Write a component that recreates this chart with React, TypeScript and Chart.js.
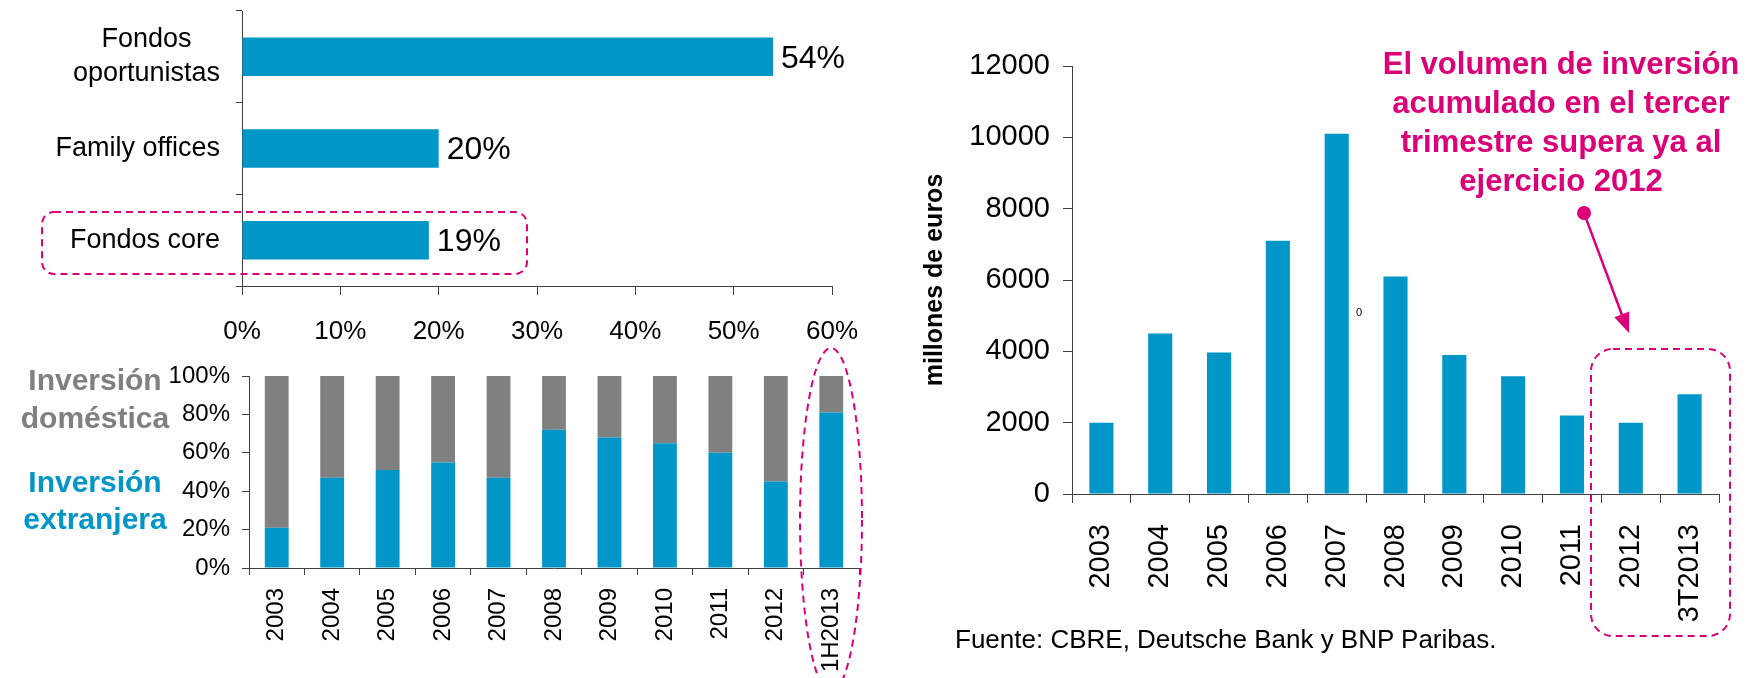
import React, { useEffect, useRef } from "react";
import { Chart, registerables } from "chart.js";

Chart.register(...registerables);

const FONT = '"Liberation Sans", Arial, sans-serif';
const BLUE = "#0096C8";
const GREY = "#808080";
const PINK = "#DC0078";
const AXIS = "#404040";

// Chart A: investor type shares
const investorTypes: (string | string[])[] = [["Fondos", "oportunistas"], "Family offices", "Fondos core"];
const investorShares = [54, 20, 19];
const shareTicks = [0, 10, 20, 30, 40, 50, 60];

// Chart B: foreign vs domestic investment share
const periodsB = ["2003", "2004", "2005", "2006", "2007", "2008", "2009", "2010", "2011", "2012", "1H2013"];
const foreignShare = [21, 47, 51, 55, 47, 72, 68, 65, 60, 45, 81];
const domesticShare = [79, 53, 49, 45, 53, 28, 32, 35, 40, 55, 19];

// Chart C: investment volume (millones de euros)
const periodsC = ["2003", "2004", "2005", "2006", "2007", "2008", "2009", "2010", "2011", "2012", "3T2013"];
const volumes = [2000, 4500, 3970, 7100, 10100, 6100, 3900, 3300, 2200, 2000, 2800];

const annotationLines = ["El volumen de inversión", "acumulado en el tercer", "trimestre supera ya al", "ejercicio 2012"];

const catLabelPlugin = {
  id: "catLabels",
  afterDraw(chart: any) {
    const y = chart.scales.y;
    const ctx = chart.ctx;
    ctx.save();
    ctx.font = `27px ${FONT}`;
    ctx.fillStyle = "#000";
    ctx.textBaseline = "middle";
    ctx.textAlign = "center";
    investorTypes.forEach((lab, i) => {
      const lines = Array.isArray(lab) ? lab : [lab];
      const w = Math.max(...lines.map((l) => ctx.measureText(l).width));
      const cx = y.right - 22 - w / 2;
      const cy = y.getPixelForValue(i);
      const lh = 34;
      lines.forEach((l, j) => ctx.fillText(l, cx, cy + (j - (lines.length - 1) / 2) * lh));
    });
    ctx.restore();
  },
};

const valueLabelPlugin = {
  id: "valueLabels",
  afterDatasetsDraw(chart: any) {
    const ctx = chart.ctx;
    const meta = chart.getDatasetMeta(0);
    ctx.save();
    ctx.font = `32px ${FONT}`;
    ctx.fillStyle = "#000";
    ctx.textBaseline = "middle";
    ctx.textAlign = "left";
    meta.data.forEach((bar: any, i: number) => {
      ctx.fillText(`${investorShares[i]}%`, bar.x + 8, bar.y + 2);
    });
    ctx.restore();
  },
};

export default function App() {
  const refA = useRef<HTMLCanvasElement>(null);
  const refB = useRef<HTMLCanvasElement>(null);
  const refC = useRef<HTMLCanvasElement>(null);

  useEffect(() => {
    const chartA = new Chart(refA.current as HTMLCanvasElement, {
      type: "bar",
      data: {
        labels: investorTypes as any,
        datasets: [{ data: investorShares, backgroundColor: BLUE, categoryPercentage: 1, barPercentage: 0.42 }],
      },
      options: {
        animation: false,
        responsive: false,
        indexAxis: "y",
        layout: { padding: { top: 11, right: 48, left: 0, bottom: 0 } },
        plugins: { legend: { display: false }, tooltip: { enabled: false } },
        scales: {
          x: {
            min: 0,
            max: 60,
            afterBuildTicks: (s: any) => {
              s.ticks = shareTicks.map((v) => ({ value: v }));
            },
            ticks: { callback: (v: any) => `${v}%`, font: { size: 26, family: FONT }, color: "#000", padding: 21 },
            grid: { drawOnChartArea: false, tickLength: 9, color: AXIS },
            border: { color: AXIS },
            afterFit: (s: any) => {
              s.height = 59;
            },
          },
          y: {
            ticks: { display: false },
            grid: { drawOnChartArea: false, tickLength: 6, color: AXIS, offset: true },
            border: { color: AXIS },
            afterFit: (s: any) => {
              s.width = 242;
            },
          },
        },
      } as any,
      plugins: [catLabelPlugin, valueLabelPlugin],
    });

    const chartB = new Chart(refB.current as HTMLCanvasElement, {
      type: "bar",
      data: {
        labels: periodsB,
        datasets: [
          { data: foreignShare, backgroundColor: BLUE, categoryPercentage: 1, barPercentage: 0.43 },
          { data: domesticShare, backgroundColor: GREY, categoryPercentage: 1, barPercentage: 0.43 },
        ],
      },
      options: {
        animation: false,
        responsive: false,
        layout: { padding: { top: 31, right: 21, left: 0, bottom: 0 } },
        plugins: { legend: { display: false }, tooltip: { enabled: false } },
        scales: {
          x: {
            stacked: true,
            ticks: { minRotation: 90, maxRotation: 90, font: { size: 24, family: FONT }, color: "#000", padding: 13 },
            grid: { drawOnChartArea: false, tickLength: 7, color: AXIS, offset: true },
            border: { color: AXIS },
            afterFit: (s: any) => {
              s.height = 110;
            },
          },
          y: {
            stacked: true,
            min: 0,
            max: 100,
            ticks: { stepSize: 20, callback: (v: any) => `${v}%`, font: { size: 24, family: FONT }, color: "#000", padding: 12 },
            grid: { drawOnChartArea: false, tickLength: 7, color: AXIS },
            border: { color: AXIS },
            afterFit: (s: any) => {
              s.width = 249;
            },
          },
        },
      } as any,
    });

    const chartC = new Chart(refC.current as HTMLCanvasElement, {
      type: "bar",
      data: {
        labels: periodsC,
        datasets: [{ data: volumes, backgroundColor: BLUE, categoryPercentage: 1, barPercentage: 0.41 }],
      },
      options: {
        animation: false,
        responsive: false,
        layout: { padding: { top: 66, right: 28, left: 0, bottom: 0 } },
        plugins: { legend: { display: false }, tooltip: { enabled: false } },
        scales: {
          x: {
            ticks: { minRotation: 90, maxRotation: 90, font: { size: 29, family: FONT }, color: "#000", padding: 21 },
            grid: { drawOnChartArea: false, tickLength: 9, color: AXIS, offset: true },
            border: { color: AXIS },
            afterFit: (s: any) => {
              s.height = 146;
            },
          },
          y: {
            min: 0,
            max: 12000,
            ticks: { stepSize: 2000, callback: (v: any) => String(v), font: { size: 29, family: FONT }, color: "#000", padding: 13 },
            grid: { drawOnChartArea: false, tickLength: 9, color: AXIS },
            border: { color: AXIS },
            title: {
              display: true,
              text: "millones de euros",
              font: { size: 25, weight: "bold", family: FONT },
              color: "#000",
              padding: { top: 40, bottom: 0 },
            },
            afterFit: (s: any) => {
              s.width = 192;
            },
          },
        },
      } as any,
    });

    return () => {
      chartA.destroy();
      chartB.destroy();
      chartC.destroy();
    };
  }, []);

  const abs = (l: number, t: number, w: number, h: number): React.CSSProperties => ({
    position: "absolute",
    left: l,
    top: t,
    width: w,
    height: h,
  });

  return (
    <div style={{ position: "absolute", left: 0, top: 0, width: 1747, height: 678, background: "#fff", overflow: "hidden", fontFamily: FONT }}>
      <canvas ref={refA} width={880} height={345} style={abs(0, 0, 880, 345)} />
      <canvas ref={refB} width={880} height={333} style={abs(0, 345, 880, 333)} />
      <canvas ref={refC} width={867} height={640} style={abs(880, 0, 867, 640)} />

      <div style={{ ...abs(0, 361, 190, 80), textAlign: "center", color: GREY, fontWeight: "bold", fontSize: 30, lineHeight: "38px" }}>
        Inversión
        <br />
        doméstica
      </div>
      <div style={{ ...abs(0, 463, 190, 80), textAlign: "center", color: BLUE, fontWeight: "bold", fontSize: 30, lineHeight: "37px" }}>
        Inversión
        <br />
        extranjera
      </div>

      <div style={{ ...abs(1361, 44, 400, 160), textAlign: "center", color: PINK, fontWeight: "bold", fontSize: 31, lineHeight: "39px", whiteSpace: "nowrap" }}>
        {annotationLines.map((l, i) => (
          <div key={i}>{l}</div>
        ))}
      </div>

      <div style={{ position: "absolute", left: 1356, top: 306, fontSize: 11, color: "#000" }}>0</div>

      <div style={{ position: "absolute", left: 955, top: 623, fontSize: 26, lineHeight: "32px", color: "#000", whiteSpace: "nowrap" }}>
        Fuente: CBRE, Deutsche Bank y BNP Paribas.
      </div>

      <svg width={1747} height={678} style={{ position: "absolute", left: 0, top: 0, pointerEvents: "none" }}>
        <rect x={42} y={212} width={485} height={62} rx={12} ry={12} fill="none" stroke={PINK} strokeWidth={2} strokeDasharray="7 5" />
        <ellipse cx={831} cy={520} rx={31} ry={172} fill="none" stroke={PINK} strokeWidth={2} strokeDasharray="7 5" />
        <rect x={1591} y={349} width={139} height={287} rx={22} ry={22} fill="none" stroke={PINK} strokeWidth={2} strokeDasharray="7 5" />
        <circle cx={1584} cy={213} r={7} fill={PINK} />
        <line x1={1584} y1={213} x2={1622} y2={315} stroke={PINK} strokeWidth={2.5} />
        <polygon points="1629,333 1614.4,317.2 1629.3,311.4" fill={PINK} />
      </svg>
    </div>
  );
}
